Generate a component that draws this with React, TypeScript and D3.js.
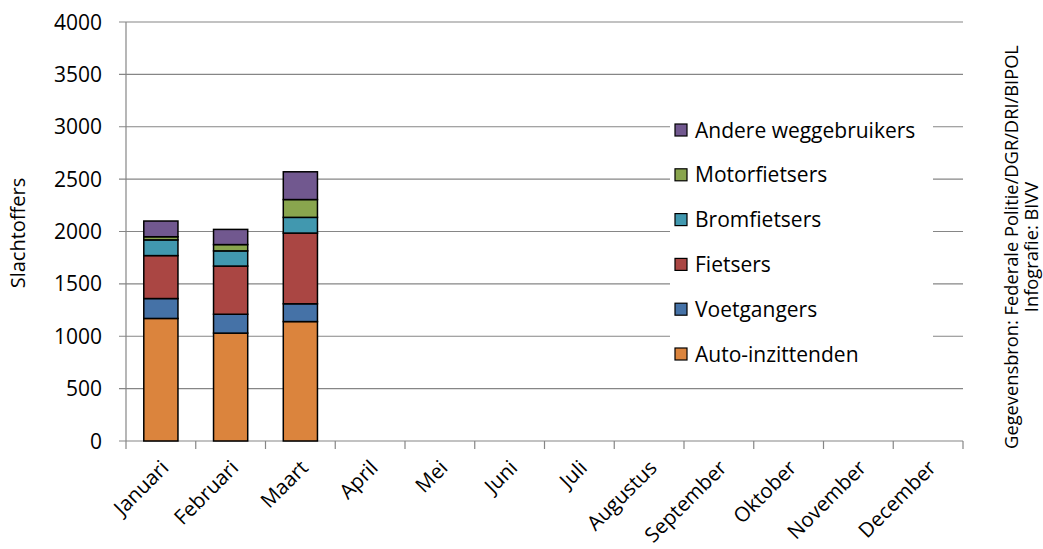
import React from "react";
import * as d3 from "d3";

const months = ["Januari","Februari","Maart","April","Mei","Juni","Juli","Augustus","September","Oktober","November","December"];
const seriesNames = ["Auto-inzittenden","Voetgangers","Fietsers","Bromfietsers","Motorfietsers","Andere weggebruikers"];
const colors = ["#DB843D","#4572A7","#AA4643","#4198AF","#89A54E","#71588F"];
const autoInzittenden = [1170, 1030, 1140];
const voetgangers = [190, 180, 170];
const fietsers = [410, 460, 675];
const bromfietsers = [150, 145, 150];
const motorfietsers = [30, 60, 170];
const andere = [150, 145, 265];
const yTicks = [0, 500, 1000, 1500, 2000, 2500, 3000, 3500, 4000];

const W = 1043, H = 549;
const left = 126, right = 963, top = 22, bottom = 441;
const FONT = "'Open Sans', sans-serif";

export default function App() {
  const x = d3.scaleBand().domain(months).range([left, right]).paddingInner(0.51).paddingOuter(0.255);
  const y = d3.scaleLinear().domain([0, 4000]).range([bottom, top]);
  const seriesVals = [autoInzittenden, voetgangers, fietsers, bromfietsers, motorfietsers, andere];
  const rows = months.slice(0, 3).map((m, i) => {
    const r: any = { month: m };
    seriesNames.forEach((s, j) => (r[s] = seriesVals[j][i]));
    return r;
  });
  const stacked = d3.stack().keys(seriesNames)(rows);
  const step = (right - left) / months.length;
  const grid = "#868686";
  const legX = 675, legY0 = 130, legStep = 44.8;
  return (
    <svg width={W} height={H} style={{ position: "absolute", left: 0, top: 0 }}>
      <rect width={W} height={H} fill="#fff" />
      {yTicks.map(t => (
        <g key={t}>
          <line x1={left - 7} x2={right} y1={y(t)} y2={y(t)} stroke={grid} strokeWidth={1.2} />
          <text x={102} y={y(t)} dy="0.36em" textAnchor="end" fontFamily={FONT} fontSize={21} fill="#000">{t}</text>
        </g>
      ))}
      <line x1={left} x2={left} y1={top} y2={bottom} stroke={grid} strokeWidth={1.2} />
      {d3.range(months.length + 1).map(i => (
        <line key={i} x1={left + i * step} x2={left + i * step} y1={bottom} y2={bottom + 8} stroke={grid} strokeWidth={1.2} />
      ))}
      <rect x={670} y={112} width={263} height={262} fill="#fff" />
      {stacked.map((s, j) => (
        <g key={j}>
          {s.map((d: any, i: number) => (
            <rect key={i} x={x(d.data.month)} width={x.bandwidth()} y={y(d[1])} height={y(d[0]) - y(d[1])} fill={colors[j]} stroke="#000" strokeWidth={1.5} />
          ))}
        </g>
      ))}
      {months.map(m => {
        const cx = (x(m) as number) + x.bandwidth() / 2;
        return (
          <text key={m} transform={`translate(${cx + 4},${bottom + 23}) rotate(-45)`} textAnchor="end" dy="0.35em" fontFamily={FONT} fontSize={20.5} fill="#000">{m}</text>
        );
      })}
      {seriesNames.slice().reverse().map((s, k) => {
        const j = seriesNames.length - 1 - k;
        const cy = legY0 + k * legStep;
        return (
          <g key={s}>
            <rect x={legX} y={cy - 6} width={12} height={12} fill={colors[j]} stroke="#000" strokeWidth={1.2} />
            <text x={legX + 20} y={cy} dy="0.36em" fontFamily={FONT} fontSize={21} fill="#000">{s}</text>
          </g>
        );
      })}
      <text transform={`translate(18,${233}) rotate(-90)`} textAnchor="middle" dy="0.35em" fontFamily={FONT} fontSize={20} fill="#000">Slachtoffers</text>
      <text transform={`translate(1018,247) rotate(-90)`} textAnchor="middle" fontFamily={FONT} fontSize={18.3} fill="#000">Gegevensbron: Federale Politie/DGR/DRI/BIPOL</text>
      <text transform={`translate(1038,247) rotate(-90)`} textAnchor="middle" fontFamily={FONT} fontSize={18.3} fill="#000">Infografie: BIVV</text>
    </svg>
  );
}
